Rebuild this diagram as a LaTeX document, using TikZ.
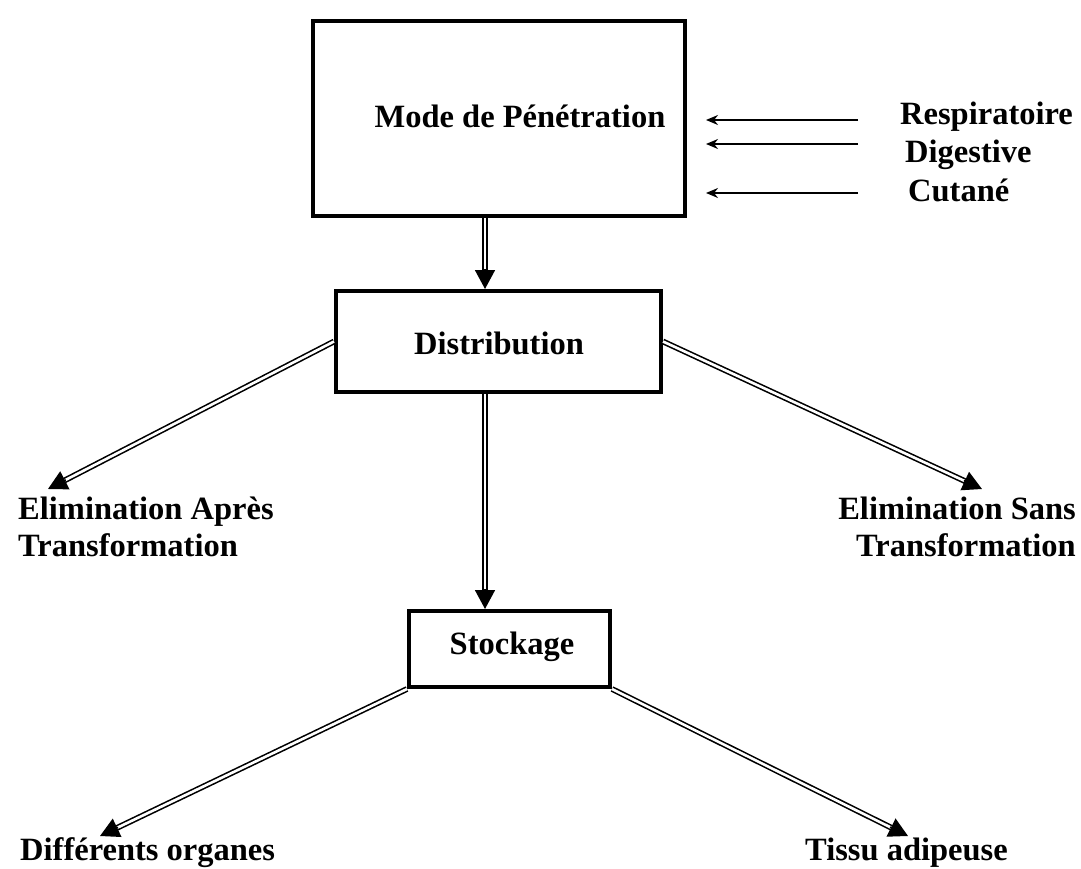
\documentclass[tikz,border=0pt]{standalone}
\usepackage{fontspec}
\setmainfont{Liberation Serif}
\usetikzlibrary{arrows.meta,calc}
\begin{document}
\begin{tikzpicture}[x=1pt,y=-1pt,
  box/.style={draw=black, line width=4pt, rectangle, inner sep=0pt},
  lbl/.style={font=\fontsize{32.5}{37}\selectfont\bfseries, inner sep=0pt},
  dbl/.style={draw=black, line width=1.6pt, double=white, double distance=2.6pt, shorten >=15pt},
  tipline/.style={draw=black, line width=1.6pt, -{Triangle[width=20pt,length=19pt]}},
  thin/.style={draw=black, line width=1.4pt, -{Stealth[length=12pt,width=10pt]}}]
\useasboundingbox (0,0) rectangle (1081,869);
% boxes
\node[box, minimum width=372pt, minimum height=195pt] (mode) at (499,118.5) {};
\node[lbl] (modet) at (520,116) {Mode de Pénétration};
\node[box, minimum width=325pt, minimum height=101pt] (dist) at (498.5,341.5) {};
\node[lbl] (distt) at (499,343) {Distribution};
\node[box, minimum width=201pt, minimum height=76pt] (stock) at (509.5,649) {};
\node[lbl] (stockt) at (512,647) {Stockage};
% input labels
\node[lbl, anchor=west] (resp) at (900,117) {Respiratoire};
\node[lbl, anchor=west] (dig) at (905,155) {Digestive};
\node[lbl, anchor=west] (cut) at (908,190) {Cutané};
\coordinate (r1s) at (858,120); \coordinate (r1e) at (706,120);
\coordinate (r2s) at (858,144); \coordinate (r2e) at (706,144);
\coordinate (r3s) at (858,193); \coordinate (r3e) at (706,193);
\draw[thin] (r1s) -- (r1e);
\draw[thin] (r2s) -- (r2e);
\draw[thin] (r3s) -- (r3e);
% output labels
\node[lbl, anchor=north west, align=left] (eap) at (18,497) {Elimination Après\\Transformation};
\node[lbl, anchor=north east, align=right] (esn) at (1076,497) {Elimination Sans\\Transformation};
\node[lbl, anchor=base west] (org) at (20,860) {Différents organes};
\node[lbl, anchor=base west] (tis) at (805,860) {Tissu adipeuse};
\coordinate (ax) at (485,0);
\coordinate (t1) at (48,489);
\coordinate (t2) at (982,489);
\coordinate (t3) at (100,836);
\coordinate (t4) at (908,836);
% double arrows
\draw[dbl] (mode.south -| ax) -- (dist.north -| ax);
\draw[tipline] ($(dist.north -| ax)!20pt!(mode.south -| ax)$) -- (dist.north -| ax);
\draw[dbl] (dist.south -| ax) -- (stock.north -| ax);
\draw[tipline] ($(stock.north -| ax)!20pt!(dist.south -| ax)$) -- (stock.north -| ax);
\draw[dbl] (dist.west) -- (t1);
\draw[tipline] ($(t1)!20pt!(dist.west)$) -- (t1);
\draw[dbl] (dist.east) -- (t2);
\draw[tipline] ($(t2)!20pt!(dist.east)$) -- (t2);
\draw[dbl] (stock.south west) -- (t3);
\draw[tipline] ($(t3)!20pt!(stock.south west)$) -- (t3);
\draw[dbl] (stock.south east) -- (t4);
\draw[tipline] ($(t4)!20pt!(stock.south east)$) -- (t4);
\end{tikzpicture}
\end{document}
